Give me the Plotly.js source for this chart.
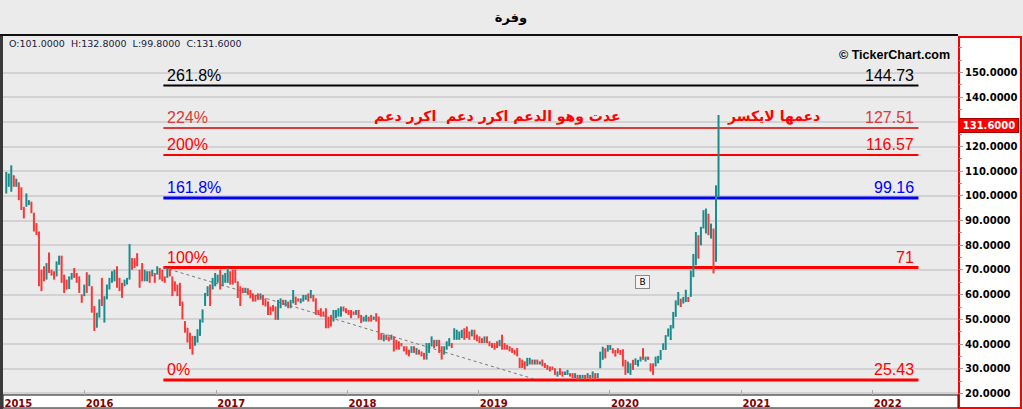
<!DOCTYPE html>
<html><head><meta charset="utf-8">
<script src="https://cdn.plot.ly/plotly-3.0.1.min.js"></script>
<style>html,body{margin:0;padding:0;background:#ebebeb;overflow:hidden}#chart{width:1023px;height:409px}</style>
</head><body><div id="chart"></div>
<script>
// ---- data (weekly candles) ----
const chartTitle = 'وفرة';
const firstWeek = '2015-05-28';
const open = [
102,104,103,108,104.5,105,103,95.5,96,97,
97.5,93,88.9,85.5,68,71.3,66.5,77,70,69.3,
67.5,72.2,75.5,68,66,62.5,66.2,70.7,68.7,67.3,
60,59.5,69,63.5,63.4,55.3,47,51,66.7,49,
58,62,65,65.5,71.4,66.7,64.7,63.5,64.2,66.2,
74.7,74.7,76.7,70,72.7,65.5,65.5,69.4,67.5,68.7,
68.2,70.7,70,67.3,66.8,70.7,67.3,65.3,64,64.7,
57.2,49,46.5,44.5,43,39.5,41,43.5,49,55.5,
59.5,64,62,63.5,65,70,63.5,65,65,69.4,
70,70,65.3,63.4,62.7,60.8,62.6,61.9,60.5,59.8,
60.4,58,59.8,58.4,57.1,55.1,55.7,55.1,50,54.6,
57.8,55.3,57.1,54.6,56.5,59.1,58.4,56.6,57.3,58,
60.4,58.5,59.8,58.4,53.7,54.4,53.1,54.4,51,51.7,
49.2,50.5,51.1,51.1,55.1,54.4,53.7,53.7,53.1,51.9,
53.7,51.7,49.2,49.2,51,51.7,49.9,52.4,51,44.3,
41.2,43.7,43,41.8,43,41.6,41,40.3,39,39,
37.6,36.5,39,35.8,37.6,36.9,36.3,33.8,36.5,39,
41.6,39.1,41.6,39,35.8,37.8,39.1,40.3,41.8,41.8,
41.8,42.5,46.3,47,45,43.2,45.7,43.7,43,42.3,
40.5,43,41,40.3,40.3,41,39.2,43.7,40.3,39.6,
39,38.3,37.6,38.3,34.4,33.6,33,31.1,31.8,33.6,
31.8,33.6,31.8,33.6,32.3,31.4,30.8,30.8,30.1,26.9,
30.1,28.8,27.6,27.6,28.1,28.1,26.3,27.4,25.6,26.3,
27.4,26.3,27.4,26.3,28.1,26.3,30.3,33.7,38.2,37,
37.7,38.2,37.5,38.2,37.5,37.8,33.5,28.3,27.6,33.5,
31.6,31,33,38.2,33,34.8,32.1,32.1,31,32.3,
33.7,37.7,37.7,43,41.7,46.4,51.1,55.8,58.3,56.5,
57.1,59,59.2,67.2,72,84,80.1,86.9,85,92.7,
82.8,86.7,73.5,101];
const high = [
109.7,109.1,112.4,108.4,107,105.5,103.5,95.6,101,98.3,
97.7,93.2,89,85.6,70.1,71.5,72.8,77.1,70.1,69.5,
73.5,75.8,75.8,68.1,66.1,67.4,68.8,70.8,68.8,67.4,
60.1,64.1,69.1,68.1,63.4,55.4,52.7,58.1,66.8,59.4,
64.1,66.8,69.5,70.1,71.5,66.8,64.8,66.1,66.8,80.5,
74.8,74.8,76.8,70.1,72.8,70.1,69.5,69.5,70.1,68.8,
71.5,70.8,70.1,67.4,70.8,70.8,67.4,65.4,64.1,64.8,
57.2,49.3,46.6,44.6,43.3,43.3,46,50,54,60.7,
63.4,64.1,66.8,68.8,68.1,70.1,68.1,68.8,70.8,69.5,
70.1,70.1,65.4,63.4,62.8,62.8,62.6,61.9,60.5,59.9,
60.5,60.5,59.9,58.5,57.2,55.2,55.8,55.2,57.9,58.5,
57.9,57.9,57.2,57.9,61.9,59.2,58.5,58.5,59.9,59.9,
60.5,61.9,59.9,58.5,53.8,54.5,53.2,54.5,51.1,51.8,
53.8,53.8,54.5,55.2,55.2,54.5,53.8,53.8,53.2,53.8,
53.8,51.8,51.1,51.8,51.1,51.8,51.1,52.5,51.1,44.4,
43.8,43.8,43.1,43.8,43.1,41.7,41.1,40.4,39.1,39.1,
37.7,39.1,39.1,38.4,37.7,37,36.4,40.4,40.4,43.1,
41.7,41.7,41.7,39.1,39.1,41.1,42.4,40.4,46.4,45.8,
45.1,45.8,46.4,47.1,45.1,45.8,45.8,43.8,43.1,42.4,
43.1,43.1,41.1,40.4,40.4,41.1,41.7,43.8,40.4,39.7,
39.1,38.4,37.7,38.4,34.4,33.7,33,34.4,34.4,33.7,
33.7,33.7,33,33.7,32.3,31.5,30.9,30.9,30.2,28.9,
30.2,28.9,28.9,29.5,28.2,28.2,28.2,27.5,27.5,27.5,
27.5,28.2,27.5,28.9,28.2,28.2,36.9,38.9,38.3,39.6,
39.6,38.3,37.6,38.3,37.6,37.9,33.6,32.9,32.2,33.6,
34.2,33.6,34.9,38.3,34.9,34.9,32.2,32.2,34.9,35.2,
37.6,40.3,43.6,46.3,47.7,53,57.7,61.1,58.4,59.1,
62,59.1,69.8,76.5,85.4,84.1,87.5,94.2,94.9,92.8,
88.8,86.8,104.3,132.8];
const low = [
101,103.7,101.7,103.7,103.7,98.3,94.3,90.9,95.6,96.3,
93,85.6,84.2,63.4,61.4,65.4,66.1,68.8,67.7,66.1,
67.4,72.1,64.8,60.7,62.1,62.3,66.1,66.8,64.8,60.7,
56.7,59.4,60.7,63.4,52.7,45.3,46.6,50.7,55.4,48.7,
58.1,62.1,64.8,65.4,62.8,61.4,58.7,63.4,64.1,66.1,
70.1,70.8,71.5,62.8,65.4,65.4,65.4,64.8,67.4,64.8,
68.1,66.1,65.4,64.8,66.8,67.4,59.4,61.4,59.4,55.4,
50,44.6,40.6,37.9,35.7,39.3,40.6,43.3,48.7,55.4,
59.4,55.4,62.1,63.4,64.8,62.1,63.4,64.8,64.8,64.1,
64.1,64.8,58.7,55.4,60.7,60.7,59.9,58.5,57.2,57.2,
57.9,57.9,55.8,55.2,51.8,51.8,53.2,49.8,49.8,54.5,
55.8,55.2,54.5,54.5,56.5,55.8,57.2,56.5,57.2,57.9,
57.2,58.5,57.2,51.8,51.8,51.1,51.1,46.4,46.4,47.1,
49.1,50.5,51.1,51.1,53.2,52.5,51.8,50.5,51.8,51.8,
50.5,48.5,49.1,49.1,49.1,49.1,49.8,49.1,41.7,41.7,
41.1,41.7,41.1,41.7,37,37.7,37.7,39.1,37,35.7,
35,36.4,36.4,35.7,35.7,35,33.7,33.7,36.4,39,
38.4,39.1,36.4,33.7,35.7,37.7,39.1,38.4,41.7,41.7,
41.7,42.4,41.7,42.4,41.7,43.1,41.7,41.1,40.4,40.4,
40.4,40.4,39.1,38.4,37.7,38.4,39.1,37.7,37.7,37.7,
37,36.4,35.7,35,30.3,30.3,29.7,31,31.7,31.7,
31.7,31.7,31.7,31,30.3,29.5,28.9,29.5,27.5,26.8,
27.5,26.8,27.5,27.5,26.8,26.2,26.2,25.5,25.5,26.2,
25.5,26.2,25.5,26.2,25.5,26.2,30.2,33.6,34.2,36.9,
37.6,36.2,34.9,36.2,35.6,30.9,27.5,28.2,27.5,29.5,
31.5,30.9,32.9,33.6,32.9,33.6,28.9,27.5,30.9,32.2,
33.6,37.6,37.6,43,41.6,46.3,51,55.7,55,56.4,
57,57,59.1,67.1,71.9,74.6,80,86.8,84.8,84.1,
82.7,68.6,73.3,99.8];
const close = [
109,108.5,111,104.5,106.5,99,95,91.5,100.5,98,
93.5,86,84.5,64,62,65.5,72.5,69,68,66.3,
73.3,75.5,65,61,62.2,67.2,68.7,67,65,61,
57,64,61,68,53,45.5,52.5,58,55.5,59,
64,66.7,69.4,70,63,61.5,59,66,66.7,79,
70.2,71,71.6,63,65.5,70,69.4,65,70,65,
71.4,66.2,65.5,65,70.7,67.5,59.5,61.5,59.5,55.5,
50,45,40.7,38,36,43.2,46,50,54,60.7,
63.4,55.5,66.7,68.7,68,62.2,68,68.7,70.7,64.2,
64.2,65,58.8,55.5,60.8,62.7,60,58.6,57.3,57.3,
58,60.4,55.9,55.3,51.9,51.9,53.3,49.9,57.8,58.4,
55.9,57.8,54.6,57.8,61.8,55.9,57.3,58.4,59.8,59.8,
57.3,61.8,57.3,51.9,51.9,51.2,51.2,46.5,46.5,47.2,
53.7,53.7,54.4,55.1,53.3,52.6,51.9,50.6,51.9,53.7,
50.6,48.6,51,51.7,49.2,49.2,51,49.2,41.8,41.8,
43.7,41.8,41.2,43.7,37.1,37.8,37.8,39.1,37.1,35.8,
35.1,39,36.5,38.3,35.8,35.1,33.8,40.3,40.3,43,
38.5,41.6,36.5,33.8,39,41,42.3,38.5,46.3,45.7,
45,45.7,41.8,42.5,41.8,45.7,41.8,41.2,40.5,40.5,
43,40.5,39.2,38.5,37.8,38.5,41.6,37.8,37.8,37.8,
37.1,36.5,35.8,35.1,30.4,30.4,29.8,34.3,34.3,31.8,
33.6,31.8,33,31.1,30.4,29.6,29,29.6,27.6,28.8,
27.6,26.9,28.8,29.4,26.9,26.3,28.1,25.6,27.4,27.4,
25.6,28.1,25.6,28.8,25.6,28.1,36.8,38.8,34.3,39.5,
39.5,36.3,35,36.3,35.7,31,27.6,32.8,32.1,29.6,
34.1,33.5,34.8,33.7,34.8,33.7,29,27.6,34.8,35.1,
37.5,40.2,43.5,46.2,47.6,52.9,57.6,61,55.1,59,
61.9,57.1,69.7,76.4,85.3,74.7,87.4,94.1,93,84.2,
88.7,73.5,101,131.6];

// Fibonacci levels
const fibLabels = ['261.8%','224%','200%','161.8%','100%','0%'];
const fibValues = [144.73,127.51,116.57,99.16,71,25.43];
// year ticks
const yearTicks = ['2015-05-20','2016-01-01','2017-01-01','2018-01-01','2019-01-01','2020-01-01','2021-01-01','2022-01-01'];
const yearLabels = ['2015','2016','2017','2018','2019','2020','2021','2022'];
const yTicks = [20,30,40,50,60,70,80,90,100,110,120,130,140,150];
const noteMain = 'عدت وهو الدعم اكرر دعم \u00a0اكرر دعم';
const noteSide = 'دعمها لايكسر';
const signalLabel = 'B';

// ---- styles / placement ----
const fibColors = ['#000000','#d93a3a','#ff0000','#0000ff','#ff0000','#ff0000'];
const fibWidths = [2,2,2,3,3,3];
const xRange = ['2015-05-19','2022-08-26'];
const fibStart = '2016-08-07', fibEnd = '2022-05-08';
const fibLabelLeft = '2016-08-12', fibLabelRight = '2022-05-02';
const trendEnd = '2019-06-13';
const noteMainX = '2020-02-06', noteSideX = '2021-08-13', noteY = 132;
const signalX = '2020-03-31', signalY = 65.1;

// dates of the weekly candles
const dates = [];
{ const d0 = new Date(firstWeek + 'T00:00:00Z');
  for (let i = 0; i < close.length; i++) {
    const d = new Date(d0.getTime() + i * 7 * 86400000);
    dates.push(d.toISOString().slice(0,10));
  } }

const n = close.length - 1;
const f4 = v => v.toFixed(4);
// the 130 label sits under the last-price box, as in the reference
const yTickText = yTicks.map(v => (Math.abs(v - close[n]) < 6 ? '' : f4(v)));

const L = 3, R = 65, T = 36, B = 14, W = 1023, H = 409;
const PW = W - L - R, PH = H - T - B;
const px = x => (x - L) / PW;
const py = y => (H - B - y) / PH;

const shapes = [
  {type:'rect', xref:'paper', yref:'paper', x0:px(959), x1:px(1021), y0:py(408), y1:py(37), fillcolor:'#ffffff', line:{color:'#ff0000', width:2}, layer:'below'},
  {type:'rect', xref:'paper', yref:'paper', x0:px(3), x1:px(958), y0:py(408), y1:py(395), fillcolor:'#ffffff', line:{color:'#111111', width:1}, layer:'below'},
  {type:'line', xref:'paper', yref:'paper', x0:px(0), x1:px(958), y0:py(35), y1:py(35), line:{color:'#111111', width:2}},
  {type:'rect', xref:'paper', yref:'paper', x0:px(0), x1:px(3), y0:py(409), y1:py(36), fillcolor:'#3a3a3a', line:{width:0}}
];
fibValues.forEach((v,i) => shapes.push({type:'line', xref:'x', yref:'y', x0:fibStart, x1:fibEnd, y0:v, y1:v,
  line:{color:fibColors[i], width:fibWidths[i]}, layer:'between'}));
shapes.push({type:'line', xref:'x', yref:'y', x0:fibStart, x1:trendEnd, y0:fibValues[4], y1:fibValues[5],
  line:{color:'#777777', width:1, dash:'dot'}, layer:'between'});

const annotations = [
  {xref:'paper', yref:'paper', x:px(7), y:py(43), xanchor:'left', yanchor:'middle', showarrow:false,
   text:'O:'+f4(open[n])+'\u00a0\u00a0H:'+f4(high[n])+'\u00a0\u00a0L:'+f4(low[n])+'\u00a0\u00a0C:'+f4(close[n]),
   font:{family:'DejaVu Sans', size:9.5, color:'#1a1a3a'}},
  {xref:'paper', yref:'paper', x:px(952), y:py(55), xanchor:'right', yanchor:'middle', showarrow:false,
   text:'<b>© TickerChart.com</b>', font:{family:'Liberation Sans', size:12.5, color:'#000000'}},
  {xref:'paper', yref:'y', x:px(989), y:close[n], xanchor:'center', yanchor:'top', showarrow:false,
   text:'<b>'+f4(close[n])+'</b>', bgcolor:'#ff0000', bordercolor:'#a00000', borderwidth:1, borderpad:0,
   width:58, height:13, font:{family:'DejaVu Sans', size:10, color:'#ffffff'}},
  {xref:'x', yref:'y', x:noteMainX, y:noteY, xanchor:'right', yanchor:'middle', showarrow:false,
   text:'<b>'+noteMain+'</b>', font:{family:'DejaVu Sans', size:14, color:'#ff0000'}},
  {xref:'x', yref:'y', x:noteSideX, y:noteY, xanchor:'right', yanchor:'middle', showarrow:false,
   text:'<b>'+noteSide+'</b>', font:{family:'DejaVu Sans', size:14, color:'#ff0000'}},
  {xref:'x', yref:'y', x:signalX, y:signalY, xanchor:'center', yanchor:'middle', showarrow:false,
   text:signalLabel, bgcolor:'#f4f4f4', bordercolor:'#888888', borderwidth:1, borderpad:1,
   width:11, font:{family:'DejaVu Sans', size:9, color:'#000000'}}
];
fibValues.forEach((v,i) => {
  annotations.push({xref:'x', yref:'y', x:fibLabelLeft, y:v, xanchor:'left', yanchor:'bottom', showarrow:false,
    text:fibLabels[i], font:{family:'Liberation Sans', size:16, color:fibColors[i]}});
  annotations.push({xref:'x', yref:'y', x:fibLabelRight, y:v, xanchor:'right', yanchor:'bottom', showarrow:false,
    text:String(v), font:{family:'Liberation Sans', size:16, color:fibColors[i]}});
});

const trace = {
  type:'ohlc', x:dates, open:open, high:high, low:low, close:close,
  tickwidth:0, hoverinfo:'skip',
  increasing:{line:{color:'#1a8c8c', width:2}},
  decreasing:{line:{color:'#f23a3a', width:2}}
};

const layout = {
  width:W, height:H,
  margin:{l:L, r:R, t:T, b:B, pad:0},
  paper_bgcolor:'#ebebeb', plot_bgcolor:'#ebebeb',
  showlegend:false,
  title:{text:'<b>'+chartTitle+'</b>', x:511/W, y:1-17/H, xanchor:'center', yanchor:'middle',
    font:{family:'DejaVu Sans', size:13, color:'#000000'}},
  xaxis:{type:'date', range:xRange, rangeslider:{visible:false}, showgrid:false, zeroline:false, showline:false,
    tickmode:'array', tickvals:yearTicks, ticktext:yearLabels, ticks:'inside', ticklen:5, tickwidth:1, tickcolor:'#aaaaaa',
    tickfont:{family:'DejaVu Sans', size:10, color:'#800000', weight:'bold'}, ticklabelshift:15, ticklabelstandoff:1,
    fixedrange:true, automargin:false},
  yaxis:{side:'right', range:[19.35,164.8], tickmode:'array', tickvals:yTicks, ticktext:yTickText,
    ticks:'outside', ticklen:4, tickwidth:1, tickcolor:'#999999',
    showgrid:true, gridcolor:'#d2d2d2', gridwidth:2, zeroline:false, showline:false,
    minor:{tick0:0, dtick:5, ticks:'outside', ticklen:3, tickcolor:'#999999', showgrid:false},
    tickfont:{family:'DejaVu Sans', size:10, color:'#000000', weight:'bold'},
    fixedrange:true, automargin:false},
  shapes:shapes, annotations:annotations
};
Plotly.newPlot('chart', [trace], layout, {displayModeBar:false, staticPlot:true});
</script>
</body></html>
